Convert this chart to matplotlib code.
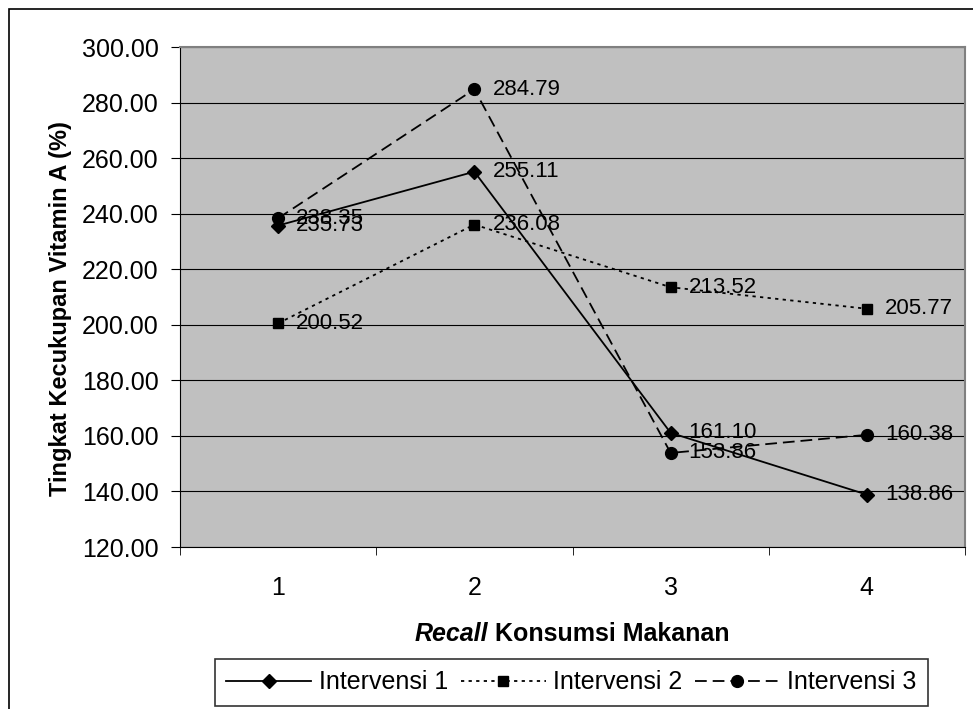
import matplotlib
matplotlib.use("Agg")
import matplotlib.pyplot as plt
from matplotlib.patches import Rectangle

categories = ["1", "2", "3", "4"]
intervensi_1 = [235.73, 255.11, 161.10, 138.86]
intervensi_2 = [200.52, 236.08, 213.52, 205.77]
intervensi_3 = [238.35, 284.79, 153.86, 160.38]
series_names = ["Intervensi 1", "Intervensi 2", "Intervensi 3"]
y_ticks = [120, 140, 160, 180, 200, 220, 240, 260, 280, 300]

plt.rcParams["font.family"] = ["Liberation Sans", "DejaVu Sans"]

W, H = 973, 709
fig = plt.figure(figsize=(W / 100, H / 100), dpi=100)

# outer chart frame (runs past the right and bottom edges)
fig.patches.append(Rectangle((9 / W, -0.05), 1.0, 1 - 9 / H + 0.05,
                             transform=fig.transFigure, fill=False,
                             edgecolor="black", linewidth=1.2))

ax = fig.add_axes([180 / W, 1 - 547 / H, 785 / W, 500 / H])
ax.set_facecolor("#C0C0C0")

x = range(len(categories))
lw = 1.3
styles = [
    dict(linestyle="-", marker="D", markersize=7),
    dict(linestyle=(0, (1.8, 2.4)), marker="s", markersize=7),
    dict(linestyle=(0, (6.5, 3.3)), marker="o", markersize=8.5),
]
for vals, name, st in zip([intervensi_1, intervensi_2, intervensi_3], series_names, styles):
    ax.plot(x, vals, color="black", linewidth=lw, label=name, zorder=3, **st)
    for xi, v in zip(x, vals):
        ax.annotate(f"{v:.2f}", (xi, v), xytext=(13, 0), textcoords="offset points",
                    ha="left", va="center", fontsize=16, zorder=4)

ax.set_xlim(-0.5, len(categories) - 0.5)
ax.set_ylim(120, 300)
ax.set_yticks(y_ticks)
ax.set_yticklabels([f"{t:.2f}" for t in y_ticks], fontsize=18)
ax.yaxis.grid(True, color="black", linewidth=0.8)
ax.set_axisbelow(True)

ax.set_xticks(list(x))
ax.set_xticklabels(categories, fontsize=18)
ax.tick_params(axis="x", length=0, pad=21)
ax.set_xticks([i - 0.5 for i in range(len(categories) + 1)], minor=True)
ax.tick_params(axis="x", which="minor", length=6, direction="out")
ax.tick_params(axis="y", length=6.5, direction="out", pad=9)

for side in ["top", "right"]:
    ax.spines[side].set_color("#808080")
    ax.spines[side].set_linewidth(1.5)

ax.set_ylabel("Tingkat Kecukupan Vitamin A (%)", fontsize=17, fontweight="bold")
ax.yaxis.set_label_coords(-0.1376, 0.477)

# x-axis title: italic "Recall" followed by upright text, centred under the plot
t1 = fig.text(0, 0, "Recall", fontsize=18, fontweight="bold", fontstyle="italic",
              ha="left", va="center")
t2 = fig.text(0, 0, " Konsumsi Makanan", fontsize=18, fontweight="bold",
              ha="left", va="center")
fig.canvas.draw()
r = fig.canvas.get_renderer()
w1 = t1.get_window_extent(r).width
w2 = t2.get_window_extent(r).width
x0 = 572 - (w1 + w2) / 2
yc = 1 - 634 / H
t1.set_position((x0 / W, yc))
t2.set_position(((x0 + w1) / W, yc))

leg = fig.legend(loc="upper center", bbox_to_anchor=(571.5 / W, 1 - 659 / H), ncol=3,
                 frameon=True, fancybox=False, edgecolor="black", fontsize=18,
                 handlelength=3.4, handletextpad=0.3, columnspacing=0.5,
                 borderpad=0.45, borderaxespad=0)
leg.get_frame().set_linewidth(1.2)

fig.savefig("out.png", dpi=100, facecolor="white")
